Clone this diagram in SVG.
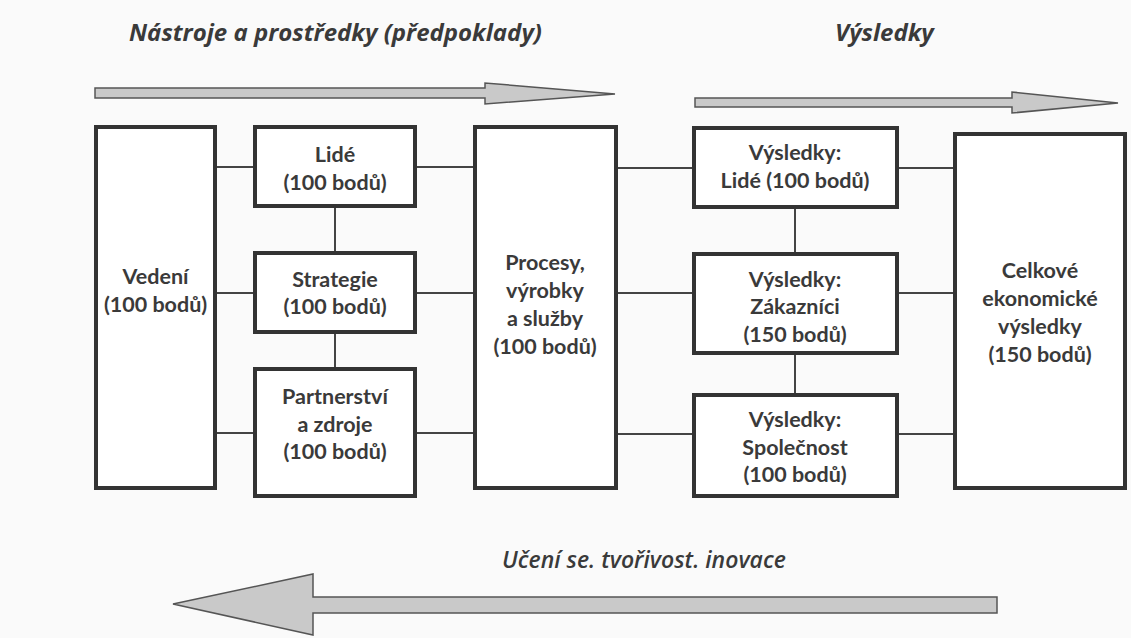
<svg xmlns="http://www.w3.org/2000/svg" width="1131" height="638" viewBox="0 0 1131 638">
<style>
.box{fill:#fff;stroke:#333;stroke-width:4}
.t{font-family:Lato,"Open Sans",sans-serif;font-weight:bold;font-size:21.5px;fill:#3a3a3a;text-anchor:middle}
.h{font-family:"Open Sans",Lato,sans-serif;font-weight:bold;font-style:italic;font-size:24px;fill:#3a3a3a}
.arr{fill:#c9c9c9;stroke:#555;stroke-width:1.5;stroke-linejoin:miter}
.c{stroke:#444;stroke-width:2;fill:none}
</style>
<rect width="1131" height="638" fill="#fafafa"/>
<text class="h" x="129" y="41">Nástroje a prostředky (předpoklady)</text>
<text class="h" x="835" y="41">Výsledky</text>
<text class="h" x="502" y="568" style="font-size:23px;font-weight:600">Učení se. tvořivost. inovace</text>
<g id="arrows">
<polygon class="arr" points="95,88 485,88 485,83 615,94 485,104 485,98 95,98"/>
<polygon class="arr" points="695,98 1012,98 1012,92 1118,103 1012,113 1012,107 695,107"/>
<polygon class="arr" points="997,597 313,597 313,574 173,604 313,635 313,613 997,613"/>
</g>
<g id="connectors">
<path class="c" d="M217,167H253M217,293H253M217,433H253M417,167H473M417,293H473M417,433H473M618,168H692M618,293H692M618,434H692M899,168H953M899,293H953M899,434H953M335,208V251M335,334V367M795,209V252M795,355V393"/>
</g>
<g id="vedeni"><rect class="box" x="96" y="127" width="119" height="361"/>
<text class="t" x="155.5" y="284">Vedení</text><text class="t" x="155.5" y="312">(100 bodů)</text></g>
<g id="lide"><rect class="box" x="255" y="127" width="160" height="79"/>
<text class="t" x="335" y="162">Lidé</text><text class="t" x="335" y="190">(100 bodů)</text></g>
<g id="strategie"><rect class="box" x="255" y="253" width="160" height="79"/>
<text class="t" x="335" y="287">Strategie</text><text class="t" x="335" y="314">(100 bodů)</text></g>
<g id="partnerstvi"><rect class="box" x="255" y="369" width="160" height="127"/>
<text class="t" x="335" y="404">Partnerství</text><text class="t" x="335" y="432">a zdroje</text><text class="t" x="335" y="459">(100 bodů)</text></g>
<g id="procesy"><rect class="box" x="475" y="127" width="141" height="361"/>
<text class="t" x="545" y="270">Procesy,</text><text class="t" x="545" y="298">výrobky</text><text class="t" x="545" y="326">a služby</text><text class="t" x="545" y="354">(100 bodů)</text></g>
<g id="vysledky-lide"><rect class="box" x="694" y="128" width="203" height="79"/>
<text class="t" x="795" y="160">Výsledky:</text><text class="t" x="795" y="188">Lidé (100 bodů)</text></g>
<g id="vysledky-zakaznici"><rect class="box" x="694" y="254" width="203" height="99"/>
<text class="t" x="795" y="287">Výsledky:</text><text class="t" x="795" y="314">Zákazníci</text><text class="t" x="795" y="342">(150 bodů)</text></g>
<g id="vysledky-spolecnost"><rect class="box" x="694" y="395" width="203" height="101"/>
<text class="t" x="795" y="427">Výsledky:</text><text class="t" x="795" y="455">Společnost</text><text class="t" x="795" y="482">(100 bodů)</text></g>
<g id="celkove"><rect class="box" x="955" y="134" width="170" height="354"/>
<text class="t" x="1040" y="278">Celkové</text><text class="t" x="1040" y="306">ekonomické</text><text class="t" x="1040" y="334">výsledky</text><text class="t" x="1040" y="362">(150 bodů)</text></g>
</svg>
